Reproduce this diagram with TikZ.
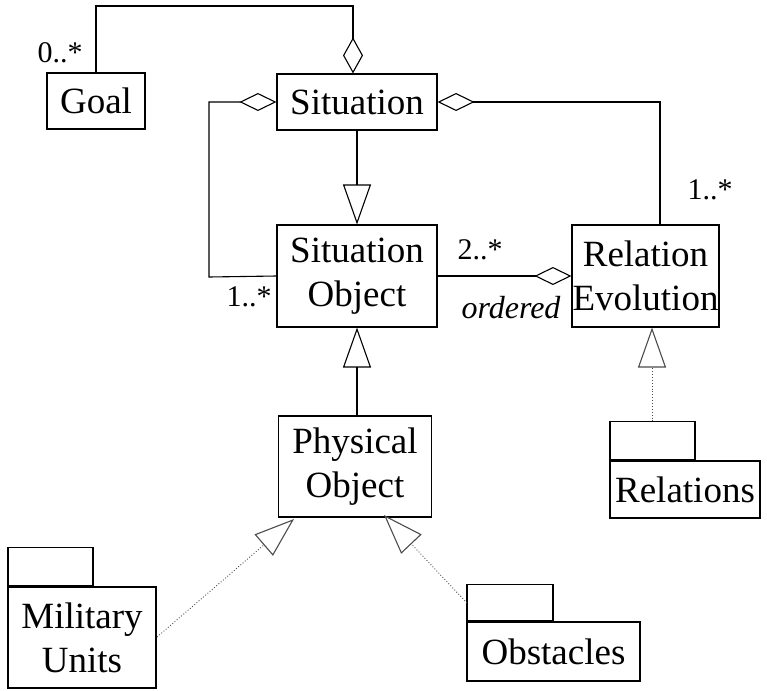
\documentclass[tikz,border=0pt]{standalone}
\usepackage{fontspec}
\setmainfont{Liberation Serif}
\usetikzlibrary{arrows.meta}
\tikzset{
  box/.style={draw, line width=1.1pt, inner sep=0pt, align=center,
    font=\fontsize{37}{44}\selectfont},
  tabbox/.style={draw, line width=1.1pt, inner sep=0pt, minimum width=85pt, minimum height=38pt, anchor=south west},
  lbl/.style={inner sep=0pt, font=\fontsize{30}{34}\selectfont},
  conn/.style={line width=1.1pt},
  dotconn/.style={line width=0.9pt, dotted, draw=black!70},
  aggv/.tip={Diamond[open, length=36pt, width=20pt, line width=1.1pt]},
  aggh/.tip={Diamond[open, length=37pt, width=18pt, line width=1.1pt]},
  gen/.tip={Triangle[open, length=40pt, width=28pt, line width=1.1pt]}
}
\begin{document}
\begin{tikzpicture}[x=1pt,y=-1pt]
\useasboundingbox (0,0) rectangle (767,690);
% classes
\node[box, minimum width=98pt, minimum height=56pt] (goal) at (96,101) {Goal};
\node[box, minimum width=160pt, minimum height=56pt] (sit) at (357,102) {Situation};
\node[box, minimum width=160pt, minimum height=102pt] (sitobj) at (357,276) {Situation\\Object};
\node[box, minimum width=147pt, minimum height=102pt] (relevo) at (645.5,276) {Relation\\Evolution};
\node[box, minimum width=153pt, minimum height=101pt] (phys) at (355,466.5) {Physical\\Object};
% packages
\node[box, minimum width=150pt, minimum height=57pt] (relb) at (685,489.5) {Relations};
\node[tabbox] (reltab) at (relb.north west) {};
\node[box, minimum width=148pt, minimum height=101pt] (milb) at (82,637.5) {Military\\Units};
\node[tabbox] (miltab) at (milb.north west) {};
\node[box, minimum width=173pt, minimum height=59pt] (obsb) at (553.5,651.5) {Obstacles};
\node[tabbox, minimum width=86pt, minimum height=36pt] (obstab) at (obsb.north west) {};
% helper coordinates
\coordinate (goaltop) at (96,6);
\coordinate (sitin) at ([xshift=-4pt]sit.north);
\coordinate (relevotop) at ([xshift=14.5pt]relevo.north);
\coordinate (relevobot) at ([xshift=6.5pt]relevo.south);
\coordinate (reltabtop) at (reltab.north -| relevobot);
\coordinate (leftcorner) at (209,277);
\coordinate (physleft) at (294,519);
\coordinate (physright) at (384,515);
\coordinate (milend) at (157,637);
\coordinate (obsend) at (467,603);
% aggregations
\draw[conn, -aggv] (goal.north) |- (goaltop -| sitin) -- (sitin);
\draw[conn, aggh-] (sit.west) -| (leftcorner) -- (sitobj.west);
\draw[conn, aggh-] (sit.east) -| (relevotop);
\draw[conn, -aggh] (sitobj.east) -- (relevo.west);
% generalizations
\draw[conn, -gen] (sit.south) -- (sitobj.north);
\draw[conn, -gen] (phys.north -| sitobj.south) -- (sitobj.south);
\draw[dotconn, -gen] (reltabtop) -- (relevobot);
\draw[dotconn, -gen] (milend) -- (physleft);
\draw[dotconn, -gen] (obsend) -- (physright);
% labels
\node[lbl] (l0) at (60,53) {0..*};
\node[lbl] (l1) at (249,297) {1..*};
\node[lbl] (l2) at (480,250) {2..*};
\node[lbl, font=\fontsize{32}{36}\selectfont\itshape] (lord) at (511,308) {ordered};
\node[lbl] (l3) at (710,190) {1..*};
\end{tikzpicture}
\end{document}
